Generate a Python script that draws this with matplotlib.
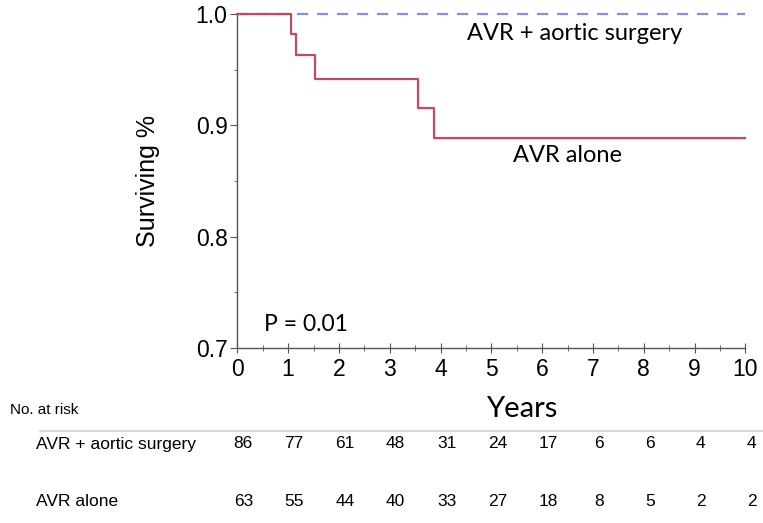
import matplotlib
matplotlib.use("Agg")
import matplotlib.pyplot as plt
from matplotlib.ticker import MultipleLocator

# Kaplan-Meier step data
alone_t = [0, 1.06, 1.16, 1.53, 3.56, 3.88, 10]
alone_s = [1.0, 0.982, 0.963, 0.942, 0.916, 0.889, 0.889]
aortic_t = [0, 10]
aortic_s = [1.0, 1.0]

# number at risk table
years = [0, 1, 2, 3, 4, 5, 6, 7, 8, 9, 10]
risk_aortic = [86, 77, 61, 48, 31, 24, 17, 6, 6, 4, 4]
risk_alone = [63, 55, 44, 40, 33, 27, 18, 8, 5, 2, 2]

arial = ["Liberation Sans", "DejaVu Sans"]
calibri = ["Lato", "DejaVu Sans"]

fig = plt.figure(figsize=(7.63, 5.23), dpi=100)
ax = fig.add_axes([0.311, 0.335, 0.666, 0.638])

ax.step(aortic_t, aortic_s, where="post", color="#8a8fdc", lw=1.6,
        linestyle=(0, (5, 4)), clip_on=False, zorder=3)
ax.step(alone_t, alone_s, where="post", color="#c04b5e", lw=1.6,
        clip_on=False, zorder=4)

ax.set_xlim(0, 10)
ax.set_ylim(0.7, 1.0)
ax.xaxis.set_major_locator(MultipleLocator(1))
ax.xaxis.set_minor_locator(MultipleLocator(0.5))
ax.yaxis.set_major_locator(MultipleLocator(0.1))
ax.yaxis.set_minor_locator(MultipleLocator(0.05))
ax.yaxis.set_major_formatter(matplotlib.ticker.FormatStrFormatter("%.1f"))
for s in ["top", "right"]:
    ax.spines[s].set_visible(False)
for s in ["left", "bottom"]:
    ax.spines[s].set_color("#555555")
    ax.spines[s].set_linewidth(1.0)
ax.tick_params(axis="x", which="major", direction="inout", length=7,
               color="#555555", labelsize=16.5, pad=4)
ax.tick_params(axis="x", which="minor", direction="inout", length=4,
               color="#555555")
ax.tick_params(axis="y", which="major", length=5, color="#555555",
               labelsize=16.5, pad=2)
ax.tick_params(axis="y", which="minor", length=2.5, color="#555555")
for lab in ax.get_xticklabels() + ax.get_yticklabels():
    lab.set_family(arial)

ax.set_ylabel("Surviving %", family=arial, fontsize=18, labelpad=26)
ax.set_xlabel("Years", family=calibri, fontsize=21)
ax.xaxis.set_label_coords(0.56, -0.145)

ax.text(6.63, 0.983, "AVR + aortic surgery", family=calibri, fontsize=17,
        ha="center", va="center")
ax.text(6.5, 0.873, "AVR alone", family=calibri, fontsize=17,
        ha="center", va="center")
ax.text(0.52, 0.721, "P = 0.01", family=calibri, fontsize=16.5,
        ha="left", va="center")

# risk table below the axis
fig.text(10 / 763, 1 - 410 / 523, "No. at risk", family=arial, fontsize=11,
         va="center")
fig.add_artist(plt.Line2D([40 / 763, 1.0], [1 - 431 / 523] * 2,
                          color="#d0d0d0", lw=1.2))
rows = [("AVR + aortic surgery", risk_aortic, 444),
        ("AVR alone", risk_alone, 502)]
for name, vals, ypix in rows:
    yf = 1 - ypix / 523
    fig.text(36 / 763, yf, name, family=arial, fontsize=12.5, va="center")
    for x, v in zip(years, vals):
        xd = ax.transData.transform((x, 0.7))[0]
        xf = fig.transFigure.inverted().transform((xd + 6, 0))[0]
        fig.text(xf, yf, str(v), family=arial, fontsize=12.5,
                 ha="center", va="center")

fig.savefig("out.png", dpi=100)
